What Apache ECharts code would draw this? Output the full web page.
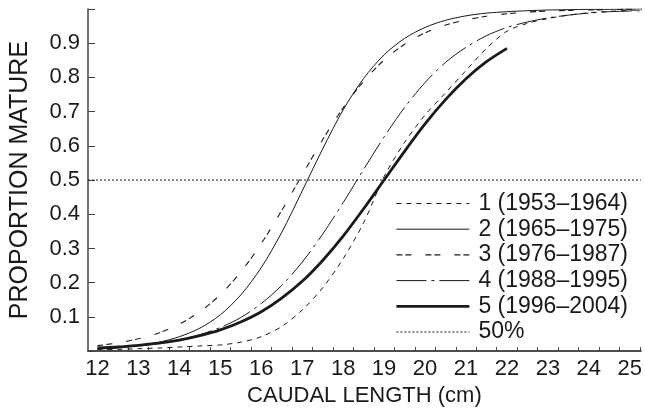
<!DOCTYPE html>
<html>
<head>
<meta charset="utf-8">
<script src="https://cdn.jsdelivr.net/npm/echarts@6/dist/echarts.min.js"></script>
<style>
  html, body { margin: 0; padding: 0; background: #fff; }
  #chart { width: 645px; height: 412px; }
</style>
</head>
<body>
<div id="chart"></div>
<script>
// caudal length (cm) at which proportions were read
const lengths = [12, 12.5, 13, 13.5, 14, 14.5, 15, 15.5, 16, 16.5, 17, 17.5, 18, 18.5,
  19, 19.5, 20, 20.5, 21, 21.5, 22, 22.5, 23, 23.5, 24, 24.5, 25, 25.3]

// proportion mature, one list per period
const p1953 = [0.004, 0.005, 0.007, 0.009, 0.012, 0.015, 0.018, 0.026, 0.042, 0.072, 0.12, 0.185, 0.27, 0.375,
  0.51, 0.61, 0.69, 0.755, 0.82, 0.885, 0.935, 0.958, 0.972, 0.982, 0.989, 0.993, 0.996, 0.997]
const p1965 = [0.006, 0.010, 0.016, 0.026, 0.042, 0.067, 0.106, 0.164, 0.244, 0.347, 0.468, 0.591, 0.705, 0.797,
  0.866, 0.914, 0.946, 0.967, 0.980, 0.988, 0.992, 0.995, 0.997, 0.998, 0.999, 0.999, 1.0, 1.0]
const p1976 = [0.016, 0.024, 0.036, 0.053, 0.079, 0.115, 0.165, 0.231, 0.314, 0.411, 0.515, 0.618, 0.711, 0.789,
  0.851, 0.897, 0.930, 0.953, 0.968, 0.979, 0.986, 0.991, 0.994, 0.996, 0.997, 0.998, 0.999, 0.999]
const p1988 = [0.007, 0.010, 0.015, 0.022, 0.033, 0.048, 0.069, 0.098, 0.139, 0.192, 0.260, 0.342, 0.434, 0.531,
  0.626, 0.712, 0.785, 0.844, 0.888, 0.922, 0.946, 0.962, 0.974, 0.982, 0.988, 0.992, 0.994, 0.995]
const p1996 = [0.009, 0.012, 0.017, 0.023, 0.032, 0.045, 0.062, 0.085, 0.115, 0.155, 0.204, 0.265, 0.336, 0.416,
  0.500, 0.584, 0.664, 0.735, 0.796, 0.846, 0.885]

const seriesNames = ['1 (1953\u20131964)', '2 (1965\u20131975)', '3 (1976\u20131987)', '4 (1988\u20131995)', '5 (1996\u20132004)', '50%']

const xLabels = [12, 13, 14, 15, 16, 17, 18, 19, 20, 21, 22, 23, 24, 25]
const xTicks = [12.25, 12.75, 13.25, 13.75, 14.25, 14.75, 15.25, 15.75, 16.25, 16.75, 17.25, 17.75,
  18.25, 18.75, 19.25, 19.75, 20.25, 20.75, 21.25, 21.75, 22.25, 22.75, 23.25, 23.75, 24.25, 24.75, 25.25]
const xRange = [11.77, 25.27]
const halfLevel = 0.5

const font = 'Liberation Sans, Arial, Helvetica, sans-serif'
const ink = '#1a1a1a'
const widths = [1, 1, 1.1, 1, 2.8, 1]

function pairs (ys) {
  return ys.map((y, i) => [lengths[i], y])
}

function curve (i, ys, dash) {
  return {
    name: seriesNames[i],
    type: 'line',
    data: pairs(ys),
    symbol: 'none',
    smooth: 0.3,
    lineStyle: { color: ink, width: widths[i], type: dash },
    itemStyle: { color: ink },
    z: 3
  }
}

let chart = echarts.init(document.getElementById('chart'))

chart.setOption({
  animation: false,
  textStyle: { fontFamily: font },
  grid: { left: 86, right: 0, top: 9, bottom: 54.5 },
  legend: {
    orient: 'vertical',
    left: 395,
    top: 192,
    padding: 0,
    itemWidth: 73,
    itemHeight: 14,
    itemGap: 2.7,
    data: seriesNames.map((n, i) => ({ name: n, lineStyle: { width: widths[i] } })),
    itemStyle: { color: 'rgba(0,0,0,0)', borderWidth: 0, opacity: 0 },
    textStyle: { fontFamily: font, fontSize: 23, color: ink, lineHeight: 23, padding: [0, 0, 0, 4] }
  },
  xAxis: [
    {
      type: 'value',
      min: xRange[0],
      max: xRange[1],
      name: 'CAUDAL LENGTH (cm)',
      nameLocation: 'middle',
      nameGap: 33,
      nameTextStyle: { fontFamily: font, fontSize: 22, color: ink },
      axisLine: { show: true, onZero: false, lineStyle: { color: '#444', width: 1.5 } },
      axisTick: { show: true, inside: true, length: 4, customValues: xTicks, lineStyle: { color: '#444' } },
      axisLabel: { customValues: xLabels, fontSize: 22, color: ink, margin: 7, fontFamily: font },
      splitLine: { show: false }
    },
    {
      type: 'value',
      position: 'top',
      min: xRange[0],
      max: xRange[1],
      axisLine: { show: true, lineStyle: { color: '#444', width: 1.5 } },
      axisTick: { show: false },
      axisLabel: { show: false },
      splitLine: { show: false }
    }
  ],
  yAxis: {
    type: 'value',
    min: 0,
    max: 1,
    interval: 0.1,
    name: 'PROPORTION MATURE',
    nameLocation: 'middle',
    nameGap: 55,
    nameTextStyle: { fontFamily: font, fontSize: 25, color: ink },
    axisLine: { show: true, lineStyle: { color: '#444', width: 1.5 } },
    axisTick: { show: true, inside: true, length: 7, lineStyle: { color: '#444' } },
    axisLabel: {
      fontSize: 22,
      color: ink,
      margin: 8,
      fontFamily: font,
      formatter: v => (v > 0.05 && v < 0.95) ? v.toFixed(1) : ''
    },
    splitLine: { show: false }
  },
  series: [
    curve(0, p1953, [5, 5]),
    curve(1, p1965, 'solid'),
    curve(2, p1976, [6, 3, 6, 14]),
    curve(3, p1988, [30, 5, 3, 5]),
    curve(4, p1996, 'solid'),
    {
      name: seriesNames[5],
      type: 'line',
      data: [[xRange[0], halfLevel], [xRange[1], halfLevel]],
      symbol: 'none',
      lineStyle: { color: ink, width: widths[5], type: [2, 2] },
      itemStyle: { color: ink },
      z: 2
    }
  ]
})
</script>
</body>
</html>
